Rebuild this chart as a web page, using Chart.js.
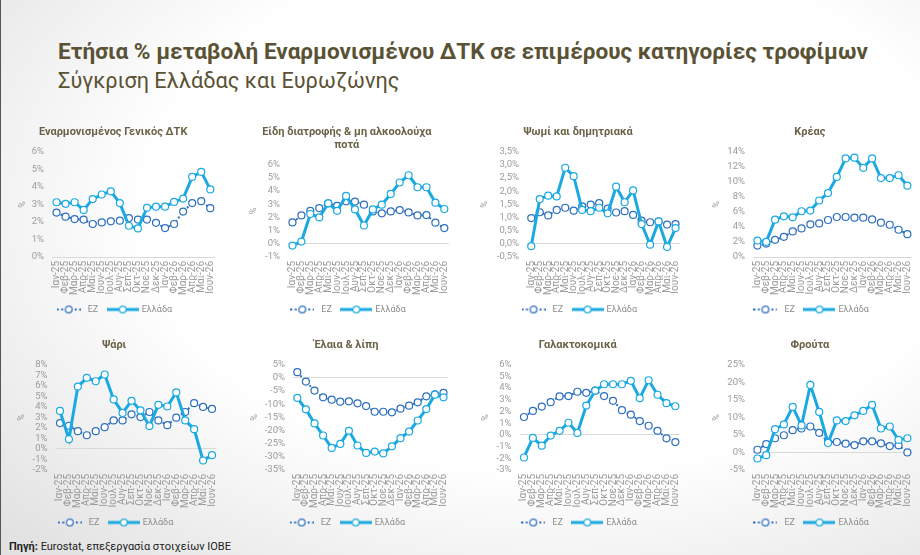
<!DOCTYPE html>
<html><head><meta charset="utf-8">
<script src="https://cdn.jsdelivr.net/npm/chart.js@4/dist/chart.umd.min.js"></script>
<style>
html,body{margin:0;padding:0;}
body{width:920px;height:555px;position:relative;overflow:hidden;
 background:radial-gradient(ellipse 80% 85% at 60% 38%, #ffffff 55%, #e2e2e2 100%);
 font-family:Roboto,'Noto Sans',sans-serif;}
#edge{position:absolute;left:0;top:0;width:1px;height:555px;background:#555;}
#title{position:absolute;left:58px;top:40px;font-weight:700;color:#5a5234;white-space:nowrap;line-height:24px;font-size:22px;}
#subtitle{position:absolute;left:58px;top:70px;color:#5a5234;white-space:nowrap;line-height:22px;font-size:20px;font-weight:400;}
#source{position:absolute;left:9px;top:540px;font-size:11px;line-height:14px;color:#222;}
canvas{position:absolute;}
</style></head>
<body>
<div id="edge"></div>
<div id="title">Ετήσια % μεταβολή Εναρμονισμένου ΔΤΚ σε επιμέρους κατηγορίες τροφίμων</div>
<div id="subtitle">Σύγκριση Ελλάδας και Ευρωζώνης</div>
<div id="source"><b>Πηγή:</b> Eurostat, επεξεργασία στοιχείων IOBE</div>
<script>
// ---------- DATA ----------
const months = ['Ιαν-25','Φεβ-25','Μαρ-25','Απρ-25','Μαΐ-25','Ιουν-25','Ιουλ-25','Αυγ-25','Σεπ-25','Οκτ-25','Νοε-25','Δεκ-25','Ιαν-26','Φεβ-26','Μαρ-26','Απρ-26','Μαΐ-26','Ιουν-26'];
const seriesNames = ['EZ','Ελλάδα'];

const hicpEZ  = [2.53,2.30,2.16,2.13,1.88,1.97,2.03,2.07,2.22,2.13,2.13,1.95,1.65,1.88,2.59,3.07,3.18,2.78];
const hicpGR  = [3.12,3.03,3.12,2.68,3.30,3.56,3.74,3.07,1.78,1.63,2.80,2.87,2.87,3.14,3.33,4.56,4.85,3.85];

const foodEZ  = [1.62,2.15,2.50,2.71,3.07,2.87,3.22,3.20,2.97,2.46,2.31,2.46,2.56,2.38,2.15,2.18,1.60,1.19];
const foodGR  = [-0.13,0.17,2.26,2.00,3.07,2.50,3.63,2.61,1.39,2.61,2.97,3.78,4.65,5.20,4.29,4.29,3.12,2.64];

const breadEZ = [0.98,1.20,1.08,1.29,1.37,1.26,1.42,1.49,1.55,1.34,1.19,1.24,1.10,0.88,0.82,0.84,0.73,0.75];
const breadGR = [-0.09,1.70,1.83,1.80,2.89,2.57,1.29,1.24,1.37,1.16,2.17,1.58,2.03,0.75,-0.03,0.85,-0.12,0.60];

const meatEZ  = [1.52,1.79,2.28,2.68,3.40,3.80,4.34,4.47,4.92,5.32,5.32,5.23,5.23,5.00,4.56,4.29,3.62,3.04];
const meatGR  = [2.19,2.01,4.96,5.41,5.28,6.08,6.17,7.51,8.50,10.64,13.10,13.20,11.85,13.10,10.50,10.50,10.87,9.48];

const fishEZ  = [2.46,2.20,1.69,1.30,1.69,2.07,2.71,2.71,3.29,3.03,3.51,2.71,2.26,2.97,3.51,4.35,3.99,3.80];
const fishGR  = [3.61,0.92,5.92,6.75,6.43,7.07,4.70,3.42,4.57,3.67,2.17,4.19,4.03,5.37,2.71,1.88,-1.10,-0.59];

const oilEZ   = [2.17,-1.40,-4.84,-7.39,-8.28,-9.04,-8.92,-9.68,-10.70,-12.87,-12.87,-13.10,-11.70,-10.57,-9.30,-7.00,-6.24,-5.73];
const oilGR   = [-7.64,-11.97,-17.30,-21.90,-26.60,-25.10,-20.10,-25.70,-28.50,-28.00,-28.70,-26.00,-22.90,-20.40,-16.20,-11.85,-6.37,-7.39];

const dairyEZ = [1.53,2.05,2.42,2.80,3.29,3.32,3.69,3.60,3.78,3.32,2.91,2.11,1.73,1.18,0.78,0.35,-0.29,-0.61];
const dairyGR = [-1.93,-0.26,-0.92,-0.06,0.35,1.04,0.17,2.51,3.78,4.33,4.33,4.33,4.62,3.14,4.67,3.43,2.71,2.45];

const fruitEZ = [0.77,2.40,4.04,4.90,6.35,6.83,7.40,5.58,2.98,2.98,2.50,2.10,3.17,3.17,2.60,1.83,2.02,0.00];
const fruitGR = [-1.73,-0.77,6.63,7.98,12.98,7.69,19.23,11.54,2.69,9.13,8.94,10.58,11.83,13.56,6.83,7.40,3.56,4.04];

const panelTitles = ['Εναρμονισμένος Γενικός ΔΤΚ', ['Είδη διατροφής & μη αλκοολούχα','ποτά'], 'Ψωμί και δημητριακά', 'Κρέας', 'Ψάρι', 'Έλαια & λίπη', 'Γαλακτοκομικά', 'Φρούτα'];
const ezSeries = [hicpEZ, foodEZ, breadEZ, meatEZ, fishEZ, oilEZ, dairyEZ, fruitEZ];
const grSeries = [hicpGR, foodGR, breadGR, meatGR, fishGR, oilGR, dairyGR, fruitGR];
const yMin  = [0, -1, -0.5, 0, -2, -35, -3, -5];
const yMax  = [6, 6, 3.5, 14, 8, 5, 6, 25];
const yStep = [1, 1, 0.5, 2, 1, 5, 1, 5];
const yDec  = [0, 0, 1, 0, 0, 0, 0, 0];

// ---------- LAYOUT / STYLE ----------
const canvasL = [10, 244, 475, 707, 12, 243, 475, 707];
const canvasT = [120, 120, 120, 120, 333, 333, 333, 333];
const plotL   = [52, 288, 527, 753, 55.5, 293, 519.5, 753];
const plotR   = [216.3, 449.5, 681, 912.7, 216.5, 449.3, 680.5, 912.7];
const yTitleOff = [13, 10, 10, 10, 10, 12, 11, 10];
const CW = 210, CH = 204;
const EZ_COLOR = '#2d6fbf', GR_COLOR = '#1aa9e1';
const TICK_COLOR = '#9b9b9b';

// fit headline widths
(function(){
  const t = document.getElementById('title');
  t.style.fontSize = (22 * 810 / t.offsetWidth) + 'px';
  const s = document.getElementById('subtitle');
  s.style.fontSize = (20 * 342 / s.offsetWidth) + 'px';
})();

function makeIcon(color, w, dash, lw){
  const c = document.createElement('canvas');
  c.width = w; c.height = 10;
  const x = c.getContext('2d');
  x.strokeStyle = color; x.lineWidth = lw; x.setLineDash(dash);
  x.beginPath(); x.moveTo(0,5); x.lineTo(w,5); x.stroke();
  x.setLineDash([]); x.fillStyle = '#fff'; x.lineWidth = 1.2;
  x.beginPath(); x.arc(w/2,5,3.4,0,Math.PI*2); x.fill(); x.stroke();
  return c;
}
const iconEZ = makeIcon(EZ_COLOR, 24, [2,2.5], 2);
const iconGR = makeIcon(GR_COLOR, 32, [], 3);

Chart.defaults.font.family = "Roboto, 'Noto Sans', sans-serif";
Chart.defaults.animation = false;

for (let i = 0; i < 8; i++) {
  const cv = document.createElement('canvas');
  cv.width = CW; cv.height = CH;
  cv.style.left = canvasL[i] + 'px'; cv.style.top = canvasT[i] + 'px';
  cv.style.width = CW + 'px'; cv.style.height = CH + 'px';
  document.body.appendChild(cv);
  const dec = yDec[i];
  new Chart(cv, {
    type: 'line',
    data: {
      labels: months,
      datasets: [
        { label: seriesNames[0], data: ezSeries[i], borderColor: EZ_COLOR, borderWidth: 2, borderDash: [2, 2.5],
          pointRadius: 3.5, pointBorderWidth: 1.2, pointBackgroundColor: '#fff', pointBorderColor: EZ_COLOR, order: 1, tension: 0 },
        { label: seriesNames[1], data: grSeries[i], borderColor: GR_COLOR, borderWidth: 3,
          pointRadius: 3.5, pointBorderWidth: 1.2, pointBackgroundColor: '#fff', pointBorderColor: GR_COLOR, order: 0, tension: 0 }
      ]
    },
    options: {
      responsive: false,
      animation: false,
      layout: { padding: { left: 0, right: canvasL[i] + CW - plotR[i], top: 0, bottom: 0 } },
      plugins: {
        tooltip: { enabled: false },
        title: { display: true, text: panelTitles[i], color: '#6b6347',
          font: { size: 11, weight: 'bold', lineHeight: '13px' }, padding: { top: 6, bottom: 12.7 } },
        legend: {
          position: 'bottom',
          labels: {
            usePointStyle: true, pointStyleWidth: 29, padding: 10, color: '#8c8c8c',
            font: { size: 9 },
            sort: (a, b) => a.datasetIndex - b.datasetIndex,
            generateLabels: (chart) => chart.data.datasets.map((ds, k) => ({
              text: ds.label, datasetIndex: k, pointStyle: k === 0 ? iconEZ : iconGR,
              fillStyle: 'transparent', strokeStyle: 'transparent', lineWidth: 0, hidden: false, fontColor: '#8c8c8c'
            }))
          }
        }
      },
      scales: {
        x: {
          offset: true,
          grid: { display: false, drawTicks: false },
          border: { display: false },
          ticks: { autoSkip: false, maxRotation: 90, minRotation: 90, padding: 4, color: TICK_COLOR, font: { size: 10 } },
          afterFit: (s) => { s.height = 38; s.paddingLeft = 0; s.paddingRight = 0; }
        },
        y: {
          min: yMin[i], max: yMax[i],
          grid: { drawTicks: false, lineWidth: 1,
            color: (ctx) => (ctx.tick && Math.abs(ctx.tick.value) < 1e-9) ? '#d9d9d9' : 'rgba(0,0,0,0)' },
          border: { display: false },
          ticks: { stepSize: yStep[i], autoSkip: false, padding: 8, color: TICK_COLOR, font: { size: 9.5 },
            callback: (v) => (dec ? v.toFixed(dec).replace('.', ',') : Math.round(v)) + '%' },
          title: { display: true, text: '%', color: TICK_COLOR, font: { size: 9, lineHeight: 1.2 },
            padding: { top: yTitleOff[i] - 5.4, bottom: 0 } },
          afterFit: (s) => { s.width = plotL[i] - canvasL[i]; }
        }
      }
    }
  });
}
</script>
</body></html>
